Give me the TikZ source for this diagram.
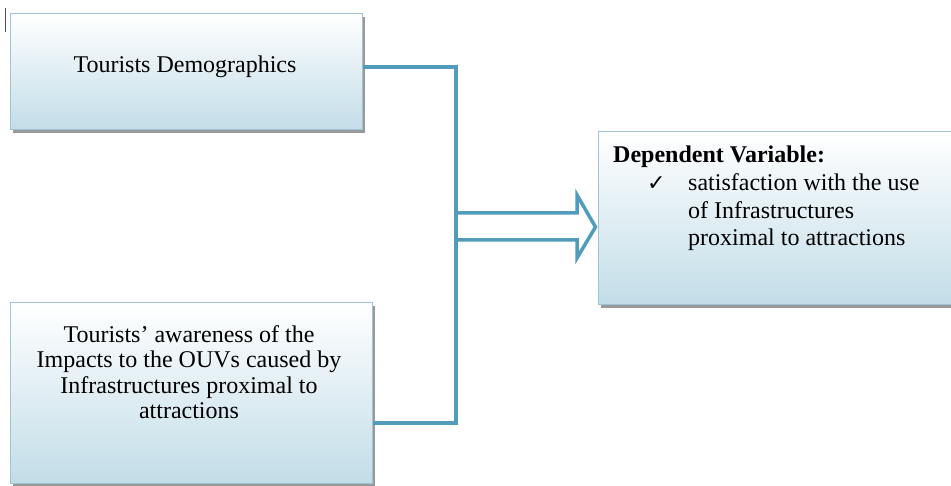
\documentclass[tikz,border=0pt]{standalone}
\usepackage{fontspec}
\setmainfont{Liberation Serif}
\newfontfamily\symfont{DejaVu Sans}
\usetikzlibrary{shadows}
\definecolor{linecol}{RGB}{80,156,186}
\definecolor{boxborder}{RGB}{160,196,212}
\definecolor{boxbottom}{RGB}{194,221,232}
\begin{document}
\begin{tikzpicture}[x=1pt,y=-1pt,
  box/.style={draw=boxborder, line width=1pt, top color=white, bottom color=boxbottom,
    inner sep=0pt, drop shadow={shadow xshift=3pt, shadow yshift=-3pt, fill=black!50, opacity=0.8}},
  conn/.style={draw=linecol, line width=4pt, line join=miter},
  txt/.style={inner sep=0pt, font=\fontsize{24}{25.5}\selectfont}]
\useasboundingbox (0,0) rectangle (951,486);
% cursor mark
\draw[black!70, line width=1pt] (5,8) -- (5,32);
% boxes
\node[box, minimum width=352pt, minimum height=116pt] (b1) at (186,72) {};
\node[box, minimum width=362pt, minimum height=180pt] (b2) at (191,393) {};
\node[box, minimum width=357pt, minimum height=173pt] (b3) at (776.5,218.5) {};
% texts
\node[txt, anchor=base] (t1) at (185,73) {Tourists Demographics};
\node[txt, anchor=north, align=center] (t2) at (189,325) {Tourists’ awareness of the\\Impacts to the OUVs caused by\\Infrastructures proximal to\\attractions};
\node[txt, anchor=north west, align=left, font=\fontsize{24}{27.7}\selectfont] (t3) at (613,146)
  {\textbf{Dependent Variable:}\\\hspace*{34pt}\makebox[41pt][l]{\symfont\fontsize{22}{22}\selectfont ✓}satisfaction with the use\\\hspace*{75pt}of Infrastructures\\\hspace*{75pt}proximal to attractions};
% connectors
\coordinate (jt) at (456,67);
\coordinate (jb) at (456,423);
\draw[conn] ([yshift=5pt]b1.east) -- (jt) -- (jb) -- ([yshift=-30pt]b2.east);
\coordinate (a1) at (456,213);
\coordinate (a2) at (577,213);
\coordinate (a3) at (577,195);
\coordinate (a5) at (577,258);
\coordinate (a6) at (577,240);
\coordinate (a7) at (456,240);
\draw[conn, line width=3.5pt] (a1) -- (a2) -- (a3) -- ([yshift=-8.5pt,xshift=-2pt]b3.west) -- (a5) -- (a6) -- (a7);
\end{tikzpicture}
\end{document}
